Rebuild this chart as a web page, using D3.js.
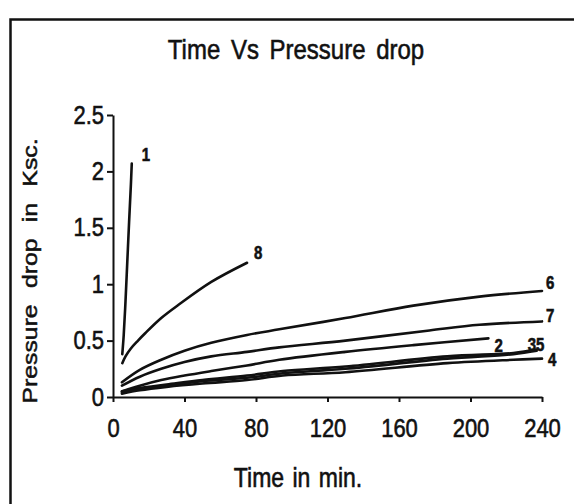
<!DOCTYPE html>
<html>
<head>
<meta charset="utf-8">
<script src="https://cdn.jsdelivr.net/npm/d3@7"></script>
<style>
  body { margin: 0; background: #fff; }
  svg { display: block; }
  text { font-family: "Liberation Sans", Arial, sans-serif; fill: #111; stroke: #111; stroke-width: 0.5px; }
</style>
</head>
<body>
<div id="vis"></div>
<script>
const width = 574;
const height = 504;
const stretch = 1.18; // the scan is stretched vertically, text follows it

// axis ticks
const xTicks = [0, 40, 80, 120, 160, 200, 240];
const yTicks = [0, 0.5, 1, 1.5, 2, 2.5];

// series: [time in min, pressure drop in Ksc]
const curve1 = [[5.2, 0.38], [6, 0.55], [7, 0.85], [8, 1.2], [9, 1.55], [10, 1.88], [10.5, 2.07]];
const curve2 = [[5, 0.05], [15, 0.1], [27, 0.15], [40, 0.19], [55, 0.23], [75, 0.28], [93, 0.33], [130, 0.4], [168, 0.46], [210, 0.52]];
const curve3 = [[5, 0.05], [15, 0.08], [30, 0.11], [50, 0.15], [75, 0.19], [95, 0.23], [130, 0.27], [187, 0.36], [224, 0.39], [237, 0.42]];
const curve4 = [[5, 0.03], [15, 0.06], [30, 0.09], [50, 0.12], [75, 0.15], [95, 0.19], [130, 0.22], [187, 0.3], [224, 0.33], [240, 0.34]];
const curve5 = [[5, 0.04], [15, 0.07], [30, 0.1], [50, 0.14], [75, 0.17], [95, 0.21], [130, 0.25], [187, 0.34], [224, 0.38], [237, 0.41]];
const curve6 = [[5, 0.13], [15, 0.24], [27, 0.33], [40, 0.41], [55, 0.48], [75, 0.55], [93, 0.6], [130, 0.7], [168, 0.81], [205, 0.89], [240, 0.94]];
const curve7 = [[5, 0.1], [15, 0.18], [27, 0.25], [40, 0.31], [55, 0.36], [75, 0.4], [93, 0.44], [130, 0.5], [177, 0.59], [205, 0.64], [240, 0.67]];
const curve8 = [[5.2, 0.3], [7, 0.36], [10, 0.43], [14, 0.5], [18, 0.565], [27, 0.7], [36.5, 0.815], [55, 1.02], [75, 1.19]];

const curveNames = ['1', '2', '35', '4', '', '6', '7', '8'];
const curveData = [curve1, curve2, curve3, curve4, curve5, curve6, curve7, curve8];

// label offsets from each curve's last point (px)
const labelOffsets = [[10, -3], [6, 14], [-9, 1], [6, 7], [0, 0], [4, -2], [4, 1], [7, -4]];

const svg = d3.select('#vis')
    .append('svg')
    .attr('width', width)
    .attr('height', height);

svg.append('rect').attr('width', width).attr('height', height).attr('fill', '#fff');

// frame of the scanned figure
svg.append('path')
    .attr('d', `M10.5,${height} V19.5 H${width}`)
    .attr('fill', 'none')
    .attr('stroke', '#111')
    .attr('stroke-width', 2.5);

let xScale = d3.scaleLinear().domain([0, 240]).range([113, 542]);
let yScale = d3.scaleLinear().domain([0, 2.5]).range([397, 115]);

function addText(x, y, str, size, rotate) {
    const g = svg.append('g')
        .attr('transform', `translate(${x},${y}) scale(1,${stretch})` + (rotate ? ' rotate(-90)' : ''));
    return g.append('text')
        .attr('text-anchor', 'middle')
        .style('font-size', size + 'px')
        .text(str);
}

// title and axis labels
addText(296, 59, 'Time Vs Pressure drop', 24).attr('word-spacing', '4px');
addText(298, 487, 'Time in min.', 23).attr('word-spacing', '2px');
addText(37, 271, 'Pressure drop in Ksc.', 21, true).attr('word-spacing', '8px');

// axes
let xAxis = svg.append('g')
    .attr('transform', 'translate(0,397)')
    .call(d3.axisBottom(xScale).tickValues(xTicks).tickSize(5).tickSizeOuter(0));

let yAxis = svg.append('g')
    .attr('transform', 'translate(113,0)')
    .call(d3.axisLeft(yScale).tickValues(yTicks).tickSize(6).tickSizeOuter(0).tickFormat(d => String(d)));

[xAxis, yAxis].forEach(ax => {
    ax.attr('font-size', null).attr('font-family', null);
    ax.selectAll('path, line').attr('stroke', '#111').attr('stroke-width', 2);
    ax.selectAll('text').style('font-size', '22px').attr('transform', `scale(1,${stretch})`);
});
xAxis.selectAll('text').attr('y', 40 / stretch).attr('dy', null);
yAxis.selectAll('text').attr('x', -9).attr('y', 8 / stretch).attr('dy', null);

// curves
const line = d3.line()
    .x(d => xScale(d[0]))
    .y(d => yScale(d[1]))
    .curve(d3.curveCatmullRom.alpha(0.5));

svg.selectAll('.curve')
    .data(curveData)
    .join('path')
    .attr('class', 'curve')
    .attr('d', line)
    .attr('fill', 'none')
    .attr('stroke', '#111')
    .attr('stroke-width', 2.6)
    .attr('stroke-linecap', 'round');

// curve numbers
curveData.forEach((c, i) => {
    if (!curveNames[i]) return;
    const last = c[c.length - 1];
    addText(xScale(last[0]) + labelOffsets[i][0], yScale(last[1]) + labelOffsets[i][1], curveNames[i], 15)
        .attr('text-anchor', 'start')
        .style('font-weight', 'bold');
});
</script>
</body>
</html>
